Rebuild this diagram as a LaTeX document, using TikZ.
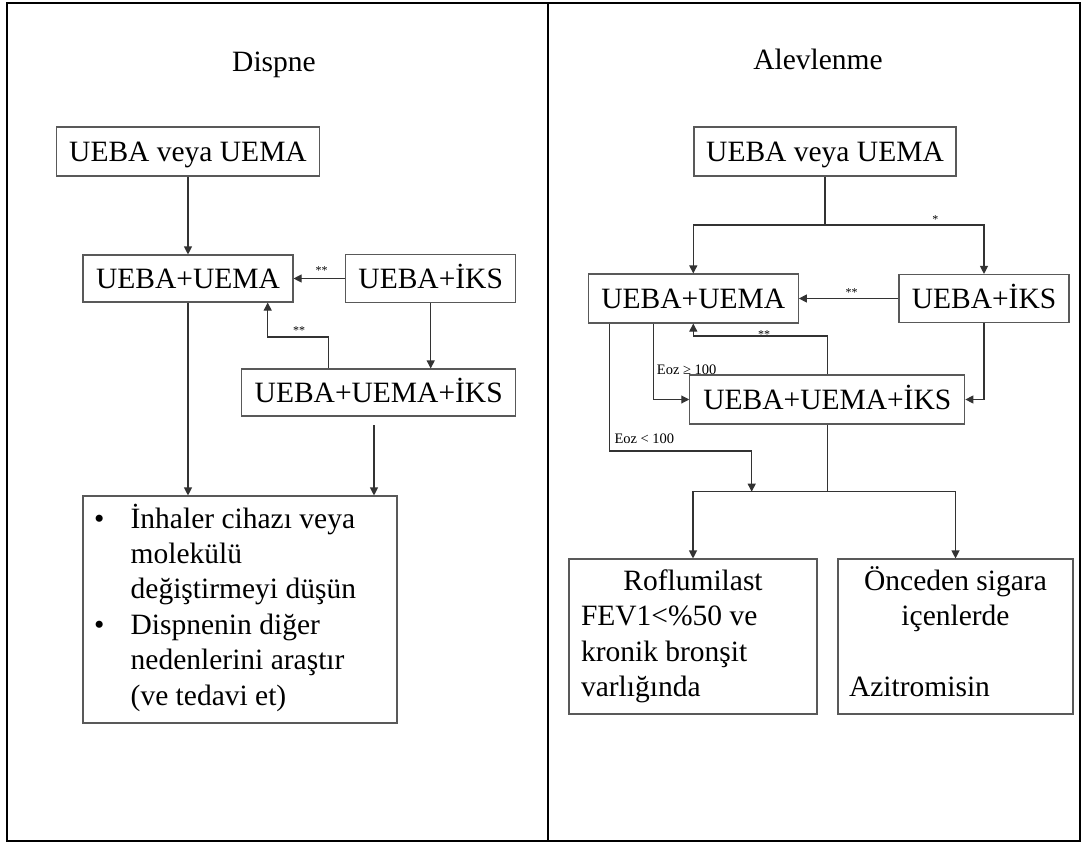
\documentclass[tikz,border=0pt]{standalone}
\usepackage{fontspec}
\setmainfont{Liberation Serif}
\usetikzlibrary{arrows.meta}

\tikzset{
  box/.style={draw=black!65,line width=1.1pt,inner sep=0pt,
    font=\fontsize{29.5}{35.4}\selectfont,text height=19.5pt,text depth=0pt},
  tbox/.style={draw=black!65,line width=1.1pt,inner sep=0pt,
    font=\fontsize{29.5}{35.4}\selectfont},
  arr/.style={draw=black!80,line width=1.1pt,-{Triangle[length=8pt,width=8pt]}},
  ln/.style={draw=black!80,line width=1.1pt},
  lbl/.style={inner sep=0pt,font=\fontsize{14.5}{16}\selectfont,anchor=west},
  ast/.style={inner sep=0pt,font=\fontsize{12}{14}\selectfont},
}

\begin{document}
\begin{tikzpicture}[x=1pt,y=-1pt]
	\useasboundingbox (0,0) rectangle (1082,843);
	\draw[line width=2pt] (7,3.5) rectangle (1079.5,840.5);
	\draw[line width=2pt] (548,3.5) -- (548,840.5);

	% Dispne
	\node[font=\fontsize{29.5}{35.4}\selectfont,anchor=base] (tD) at (274,71.5) {Dispne};
	\node[box,minimum width=263,minimum height=49] (d1) at (188,151.5) {UEBA veya UEMA};
	\node[box,minimum width=210,minimum height=47] (d2) at (188,278.5) {UEBA+UEMA};
	\node[box,minimum width=170,minimum height=48] (d3) at (430.7,278.5) {UEBA+İKS};
	\node[box,minimum width=274,minimum height=47] (d4) at (378.7,392.5) {UEBA+UEMA+İKS};
	\node[tbox,minimum width=314,minimum height=227] (d5) at (240,609.5) {\begin{tabular}{@{}p{36.7pt}@{}p{255.3pt}@{}}
		\textbullet & İnhaler cihazı veya\\
		 & molekülü\\
		 & değiştirmeyi düşün\\
		\textbullet & Dispnenin diğer\\
		 & nedenlerini araştır\\
		 & (ve tedavi et)
	\end{tabular}};
	\node[ast] (s1) at (321.7,271) {**};
	\node[ast] (s2) at (299,331) {**};

	\coordinate (d4up) at (328.3,337);
	\coordinate (d2in) at (267.7,337);
	\coordinate (d4out) at (374,425);
	\draw[arr] (d1.south) -- (d2.north);
	\draw[arr] (d3.west) -- (d2.east);
	\draw[arr] (d3.south) -- (d3.south |- d4.north);
	\draw[arr] (d4.north -| d4up) -- (d4up) -- (d2in) -- (d2in |- d2.south);
	\draw[arr] (d2.south) -- (d2.south |- d5.north);
	\draw[arr] (d4out) -- (d4out |- d5.north);

	% Alevlenme
	\node[font=\fontsize{29.5}{35.4}\selectfont,anchor=base] (tA) at (818,70) {Alevlenme};
	\node[box,minimum width=262,minimum height=49] (a1) at (825,151.5) {UEBA veya UEMA};
	\node[box,minimum width=210,minimum height=49] (a2) at (693.3,298.5) {UEBA+UEMA};
	\node[box,minimum width=170,minimum height=48] (a3) at (984,298.5) {UEBA+İKS};
	\node[box,minimum width=275,minimum height=49] (a4) at (827.3,399.5) {UEBA+UEMA+İKS};
	\node[tbox,minimum width=248,minimum height=155] (a5) at (693,636.5) {\begin{tabular}{@{}p{224pt}@{}}
		\multicolumn{1}{@{}c@{}}{Roflumilast}\\
		FEV1<\%50 ve\\
		kronik bronşit\\
		varlığında
	\end{tabular}};
	\node[tbox,minimum width=235,minimum height=155] (a6) at (955.5,636.5) {\begin{tabular}{@{}p{213pt}@{}}
		\multicolumn{1}{@{}c@{}}{Önceden sigara}\\
		\multicolumn{1}{@{}c@{}}{içenlerde}\\
		\\
		Azitromisin
	\end{tabular}};
	\node[ast] (s3) at (935.3,220) {*};
	\node[ast] (s4) at (851.7,293) {**};
	\node[ast] (s5) at (764,334.7) {**};
	\node[lbl] (e1) at (656.7,369.3) {Eoz ≥ 100};
	\node[lbl] (e2) at (614.3,438.3) {Eoz < 100};

	\coordinate (a1split) at (825,225);
	\coordinate (a4up) at (693.3,336);
	\coordinate (eozlow) at (751.7,451);
	\coordinate (a4hub) at (827.3,491.7);
	\draw[ln] (a1.south) -- (a1split);
	\draw[arr] (a1split) -| (a2.north);
	\draw[arr] (a1split) -| (a3.north);
	\draw[arr] (a3.west) -- (a2.east);
	\draw[arr] (a4.north) |- (a4up) -- (a2.south);
	\draw[arr] ([xshift=-40pt]a2.south) |- (a4.west);
	\draw[arr] ([xshift=-84pt]a2.south) |- (eozlow) -- (eozlow |- a4hub);
	\draw[arr] (a3.south) |- (a4.east);
	\draw[ln] (a4.south) -- (a4hub);
	\draw[arr] (a4hub) -| (a5.north);
	\draw[arr] (a4hub) -| (a6.north);
\end{tikzpicture}
\end{document}
